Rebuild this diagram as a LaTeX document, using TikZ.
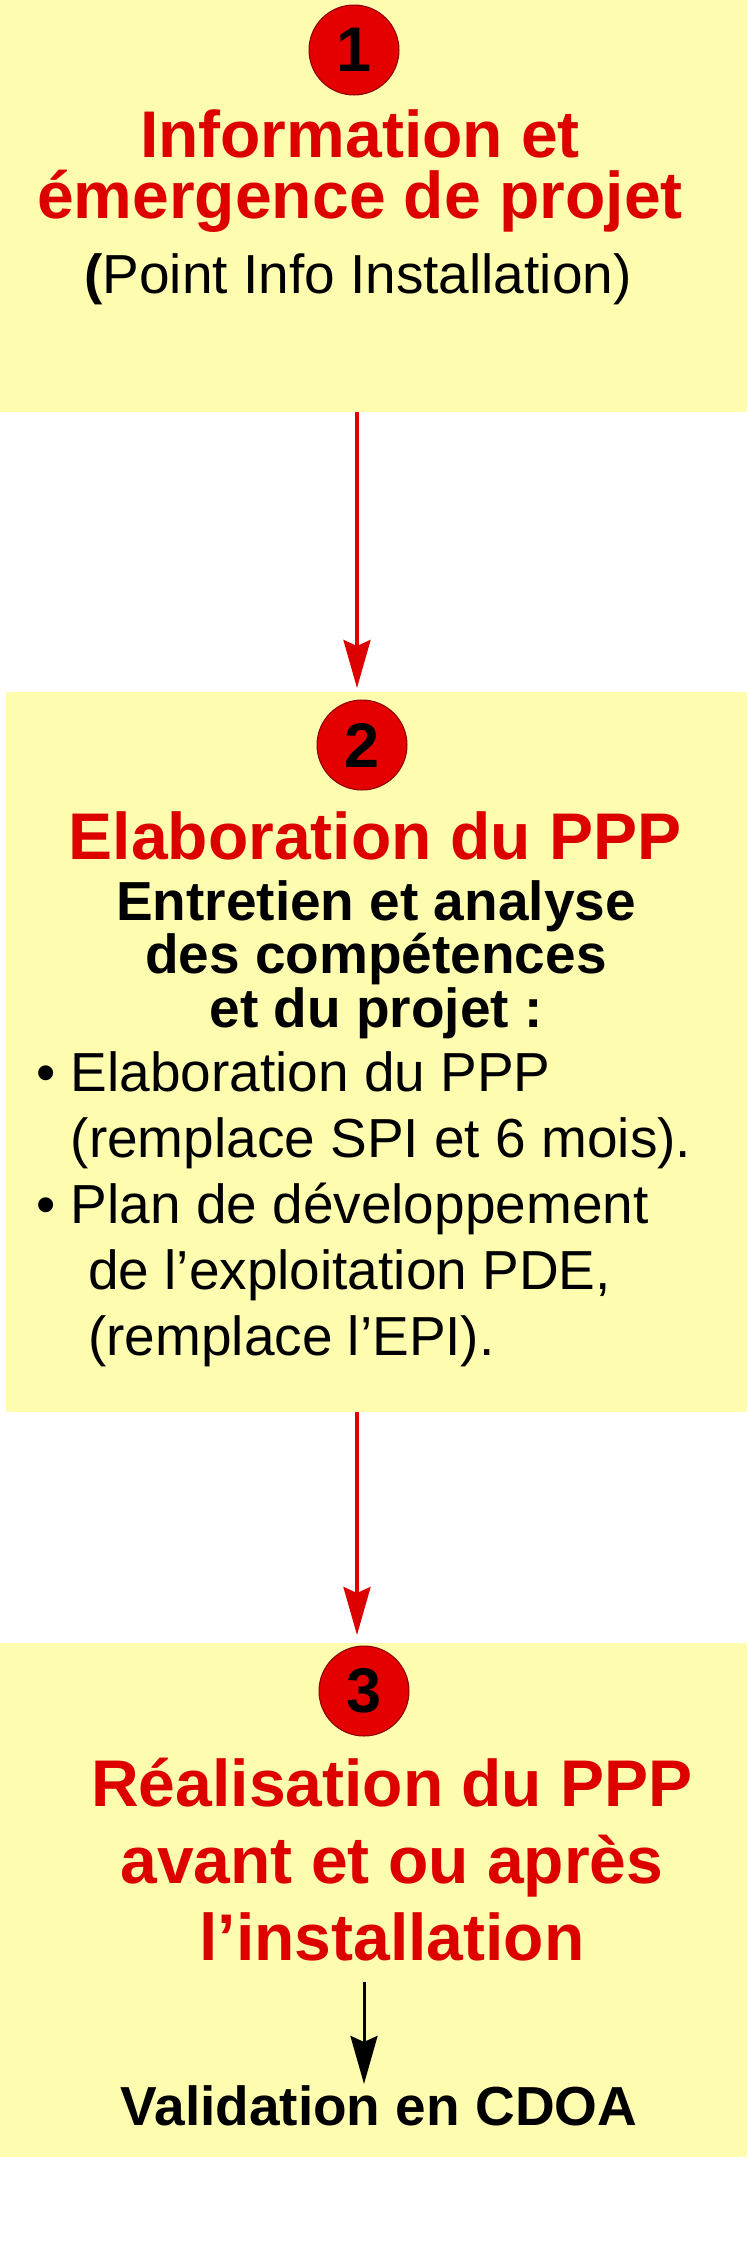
\documentclass[tikz,border=0pt]{standalone}
\usepackage{fontspec}
\setmainfont{Liberation Sans}
\usetikzlibrary{arrows.meta,positioning}

\definecolor{panelyellow}{RGB}{254,252,174}
\definecolor{titlered}{RGB}{221,0,0}
\definecolor{discred}{RGB}{228,0,0}

\tikzset{
  panel/.style={fill=panelyellow, inner sep=0pt, anchor=north west, minimum width=747pt},
  numdisc/.style={circle, fill=discred, draw=discred!60!black, line width=1pt, minimum size=90pt, inner sep=0pt, font=\bfseries\fontsize{63}{63}\selectfont},
  bigtitle/.style={text=titlered, font=\bfseries\fontsize{66}{#1}\selectfont, align=center, inner sep=0pt},
  bigtitle/.default=61,
  subtitle/.style={font=\bfseries\fontsize{55}{53.5}\selectfont, align=center, inner sep=0pt},
  itemtext/.style={font=\fontsize{55}{66}\selectfont, align=left, inner sep=0pt},
  steparrow/.style={draw=titlered, line width=3.5pt, -{Stealth[length=48pt,width=27pt,inset=6pt]}},
}

\begin{document}
\begin{tikzpicture}[x=1pt,y=-1pt]
    \useasboundingbox (0,0) rectangle (747,2254);

    % panels
    \node[panel, minimum height=412pt] (box1) at (0,0) {};
    \node[panel, minimum width=741pt, minimum height=720pt] (box2) at (6,692) {};
    \node[panel, minimum height=514pt] (box3) at (0,1643) {};

    % step 1 (multi-line nodes sit on their last baseline)
    \node[numdisc] (n1) at (354,50) {1};
    \node[bigtitle, anchor=base] (t1) at (360,218) {Information et\\émergence de projet};
    \node[font=\fontsize{55}{60}\selectfont, inner sep=0pt, anchor=base] (s1) at (358,293) {\textbf{(}Point Info Installation)};

    % step 2
    \node[numdisc] (n2) at (362,745) {2};
    \node[bigtitle, anchor=base] (t2) at (375,859) {Elaboration du PPP};
    \node[subtitle, anchor=base] (s2) at (376,1027) {Entretien et analyse\\des compétences\\et du projet :};
    \node[itemtext, anchor=base west] (l2) at (36,1355) {• Elaboration du PPP\\
        \phantom{• }(remplace SPI et 6 mois).\\
        • Plan de développement\\
        \hspace*{52pt}de l’exploitation PDE,\\
        \hspace*{52pt}(remplace l’EPI).};

    % step 3
    \node[numdisc] (n3) at (364,1691) {3};
    \node[bigtitle=77, anchor=base] (t3) at (392,1960) {Réalisation du PPP\\avant et ou après\\l’installation};
    \node[subtitle, anchor=base] (v3) at (379,2125) {Validation en CDOA};

    \coordinate (axis) at (357,0);
    \draw[steparrow, shorten >=4pt] (box1.south -| axis) -- (box2.north -| axis);
    \draw[steparrow, shorten >=8pt] (box2.south -| axis) -- (box3.north -| axis);
    \draw[steparrow, draw=black, line width=3pt, shorten <=21pt, shorten >=1pt] (t3.south -| n3) -- (v3.north -| n3);
\end{tikzpicture}
\end{document}
